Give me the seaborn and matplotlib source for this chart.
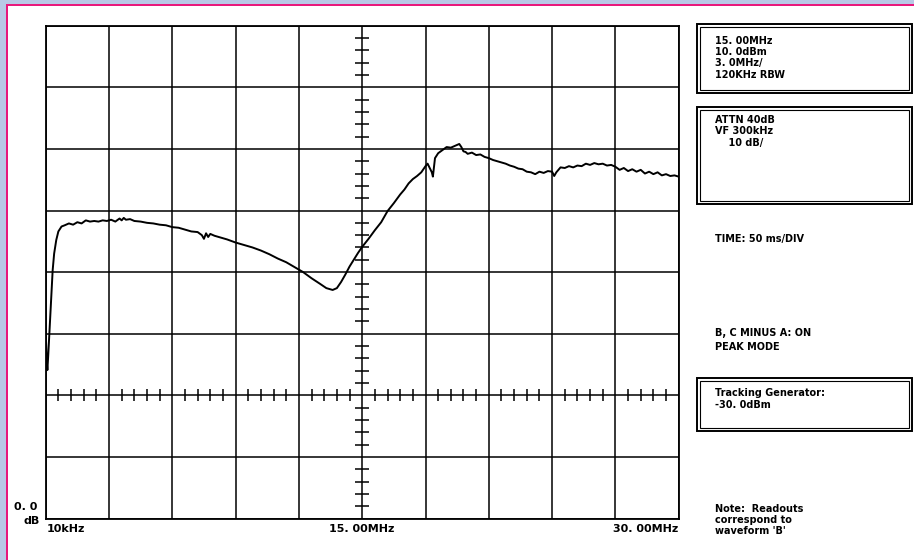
import matplotlib
matplotlib.use("Agg")
import matplotlib.pyplot as plt
import matplotlib.patches as patches
import seaborn as sns
import numpy as np

# Spectrum analyser trace (frequency in MHz, level in dB above bottom graticule line)
freq_mhz = [0.01, 0.04, 0.08, 0.12, 0.18, 0.25, 0.33, 0.4, 0.5, 0.6, 0.75, 0.9, 1.1, 1.3,
            1.5, 1.7, 1.9, 2.1, 2.3, 2.5, 2.7, 2.9, 3.1, 3.3, 3.5, 3.6, 3.7, 3.8, 4.0, 4.2,
            4.5, 4.8, 5.1, 5.4, 5.7, 6.0, 6.3, 6.6, 6.9, 7.2, 7.4, 7.5, 7.6, 7.7, 7.8, 8.0,
            8.3, 8.6, 9.0, 9.4, 9.8, 10.2, 10.6, 11.0, 11.4, 11.8, 12.2, 12.6, 13.0, 13.3,
            13.6, 13.8, 14.0, 14.2, 14.4, 14.6, 14.8, 15.0, 15.3, 15.6, 15.9, 16.2, 16.5,
            16.8, 17.0, 17.2, 17.4, 17.6, 17.8, 18.0, 18.1, 18.2, 18.3, 18.35, 18.45, 18.6,
            18.8, 19.0, 19.2, 19.4, 19.6, 19.7, 19.8, 19.9, 20.0, 20.2, 20.4, 20.6, 20.8,
            21.0, 21.2, 21.4, 21.6, 21.8, 22.0, 22.2, 22.4, 22.6, 22.8, 23.0, 23.2, 23.4,
            23.6, 23.8, 24.0, 24.1, 24.2, 24.4, 24.6, 24.8, 25.0, 25.2, 25.4, 25.6, 25.8,
            26.0, 26.2, 26.4, 26.6, 26.8, 27.0, 27.2, 27.4, 27.6, 27.8, 28.0, 28.2, 28.4,
            28.6, 28.8, 29.0, 29.2, 29.4, 29.6, 29.8, 30.0]
level_db = [29.5, 26.0, 24.1, 26.5, 30.5, 35.5, 40.3, 43.0, 45.2, 46.6, 47.4, 47.6, 47.9, 47.7,
            48.1, 47.9, 48.4, 48.2, 48.3, 48.2, 48.4, 48.3, 48.5, 48.2, 48.7, 48.4, 48.8, 48.5,
            48.6, 48.3, 48.2, 48.0, 47.9, 47.7, 47.6, 47.3, 47.2, 46.9, 46.6, 46.5, 46.0, 45.4,
            46.3, 45.7, 46.2, 45.9, 45.6, 45.3, 44.8, 44.4, 44.0, 43.5, 42.9, 42.2, 41.6, 40.8,
            40.0, 39.0, 38.1, 37.4, 37.1, 37.4, 38.4, 39.6, 40.9, 42.0, 43.1, 44.1, 45.4, 46.8,
            48.1, 49.9, 51.2, 52.6, 53.4, 54.4, 55.1, 55.6, 56.2, 57.2, 57.6, 56.9, 56.2, 55.5,
            58.5, 59.3, 59.8, 60.3, 60.2, 60.5, 60.8, 60.3, 59.6, 59.5, 59.2, 59.4, 59.0, 59.1,
            58.7, 58.5, 58.2, 58.0, 57.8, 57.6, 57.3, 57.1, 56.8, 56.7, 56.3, 56.2, 55.9, 56.3,
            56.1, 56.4, 56.3, 55.6, 56.2, 57.0, 56.9, 57.2, 57.0, 57.3, 57.2, 57.6, 57.4, 57.7,
            57.5, 57.6, 57.3, 57.4, 57.1, 56.6, 56.9, 56.4, 56.7, 56.3, 56.6, 56.0, 56.3, 55.9,
            56.2, 55.7, 55.9, 55.6, 55.7, 55.5]

# Axis labels and readouts
x_labels = ["10kHz", "15. 00MHz", "30. 00MHz"]
box1_lines = ["15. 00MHz", "10. 0dBm", "3. 0MHz/", "120KHz RBW"]
box2_lines = ["ATTN 40dB", "VF 300kHz", "    10 dB/"]
box3_lines = ["Tracking Generator:", "-30. 0dBm"]
mode_lines = ["B, C MINUS A: ON", "PEAK MODE"]
note_lines = ["Note:  Readouts", "correspond to", "waveform 'B'"]

W, H = 914, 560
sns.set_theme(style="white")
plt.rcParams['font.family'] = ['DejaVu Sans']

fig = plt.figure(figsize=(W / 100, H / 100), dpi=100)
fig.patch.set_facecolor("white")


def fx(x):
    return x / W


def fy(y):
    return 1 - y / H


# blue/pink frame on top and left
blue, pink = "#b9c9e6", "#e8197c"
fig.patches.append(patches.Rectangle((0, 0), fx(6), 1, transform=fig.transFigure,
                                     color=blue, lw=0, zorder=0))
fig.patches.append(patches.Rectangle((0, fy(4)), 1, 4 / H, transform=fig.transFigure,
                                     color=blue, lw=0, zorder=0))
fig.patches.append(patches.Rectangle((fx(6), 0), fx(2), fy(4), transform=fig.transFigure,
                                     color=pink, lw=0, zorder=0))
fig.patches.append(patches.Rectangle((fx(6), fy(6)), 1, 2 / H, transform=fig.transFigure,
                                     color=pink, lw=0, zorder=0))

# graticule
left, right, top, bottom = 45.7, 678.7, 25.7, 518.5
ax = fig.add_axes([fx(left), fy(bottom), fx(right - left), (bottom - top) / H])
ax.set_xlim(0, 30)
ax.set_ylim(0, 80)
ax.set_xticks(np.arange(0, 31, 3))
ax.set_yticks(np.arange(0, 81, 10))
ax.set_xticklabels([])
ax.set_yticklabels([])
ax.tick_params(length=0)
ax.grid(True, color="black", lw=1.1)
for s in ax.spines.values():
    s.set_color("black")
    s.set_linewidth(1.3)

# minor ticks on the centre axes
minor_x = [v for v in np.arange(0.6, 30, 0.6) if abs(v / 3 - round(v / 3)) > 1e-6]
minor_y = [v for v in np.arange(2, 80, 2) if v % 10 != 0]
ax.vlines(minor_x, 19.0, 21.0, color="black", lw=1.1)
ax.hlines(minor_y, 14.68, 15.32, color="black", lw=1.1)

sns.lineplot(x=freq_mhz, y=level_db, ax=ax, color="black", lw=1.4,
             sort=False, estimator=None)

tkw = dict(fontweight="bold", color="black", va="center")

# bottom labels
fig.text(fx(14), fy(507.5), "0. 0", ha="left", fontsize=8, **tkw)
fig.text(fx(24), fy(521.5), "dB", ha="left", fontsize=8, **tkw)
fig.text(fx(47), fy(528.5), x_labels[0], ha="left", fontsize=8, **tkw)
fig.text(fx(362), fy(528.5), x_labels[1], ha="center", fontsize=8, **tkw)
fig.text(fx(678), fy(528.5), x_labels[2], ha="right", fontsize=8, **tkw)


def box(y0, y1):
    x0, x1 = 696.7, 911.5
    fig.patches.append(patches.Rectangle((fx(x0), fy(y1)), fx(x1 - x0), (y1 - y0) / H,
                                         transform=fig.transFigure, fill=False,
                                         ec="black", lw=1.4))
    fig.patches.append(patches.Rectangle((fx(x0 + 3), fy(y1 - 3)), fx(x1 - x0 - 6),
                                         (y1 - y0 - 6) / H, transform=fig.transFigure,
                                         fill=False, ec="black", lw=0.8))


def lines(x, y0, items, step=11.4):
    for i, t in enumerate(items):
        fig.text(fx(x), fy(y0 + i * step), t, ha="left", fontsize=7, **tkw)


box(24.3, 92.7)
lines(715, 40.5, box1_lines)
box(107.3, 204)
lines(715, 120, box2_lines)
lines(715, 239.5, ["TIME: 50 ms/DIV"])
lines(715, 333.5, mode_lines, step=13)
box(378.3, 430.7)
lines(715, 393.5, box3_lines)
lines(715, 508.5, note_lines)

fig.savefig("out.png", dpi=100)
